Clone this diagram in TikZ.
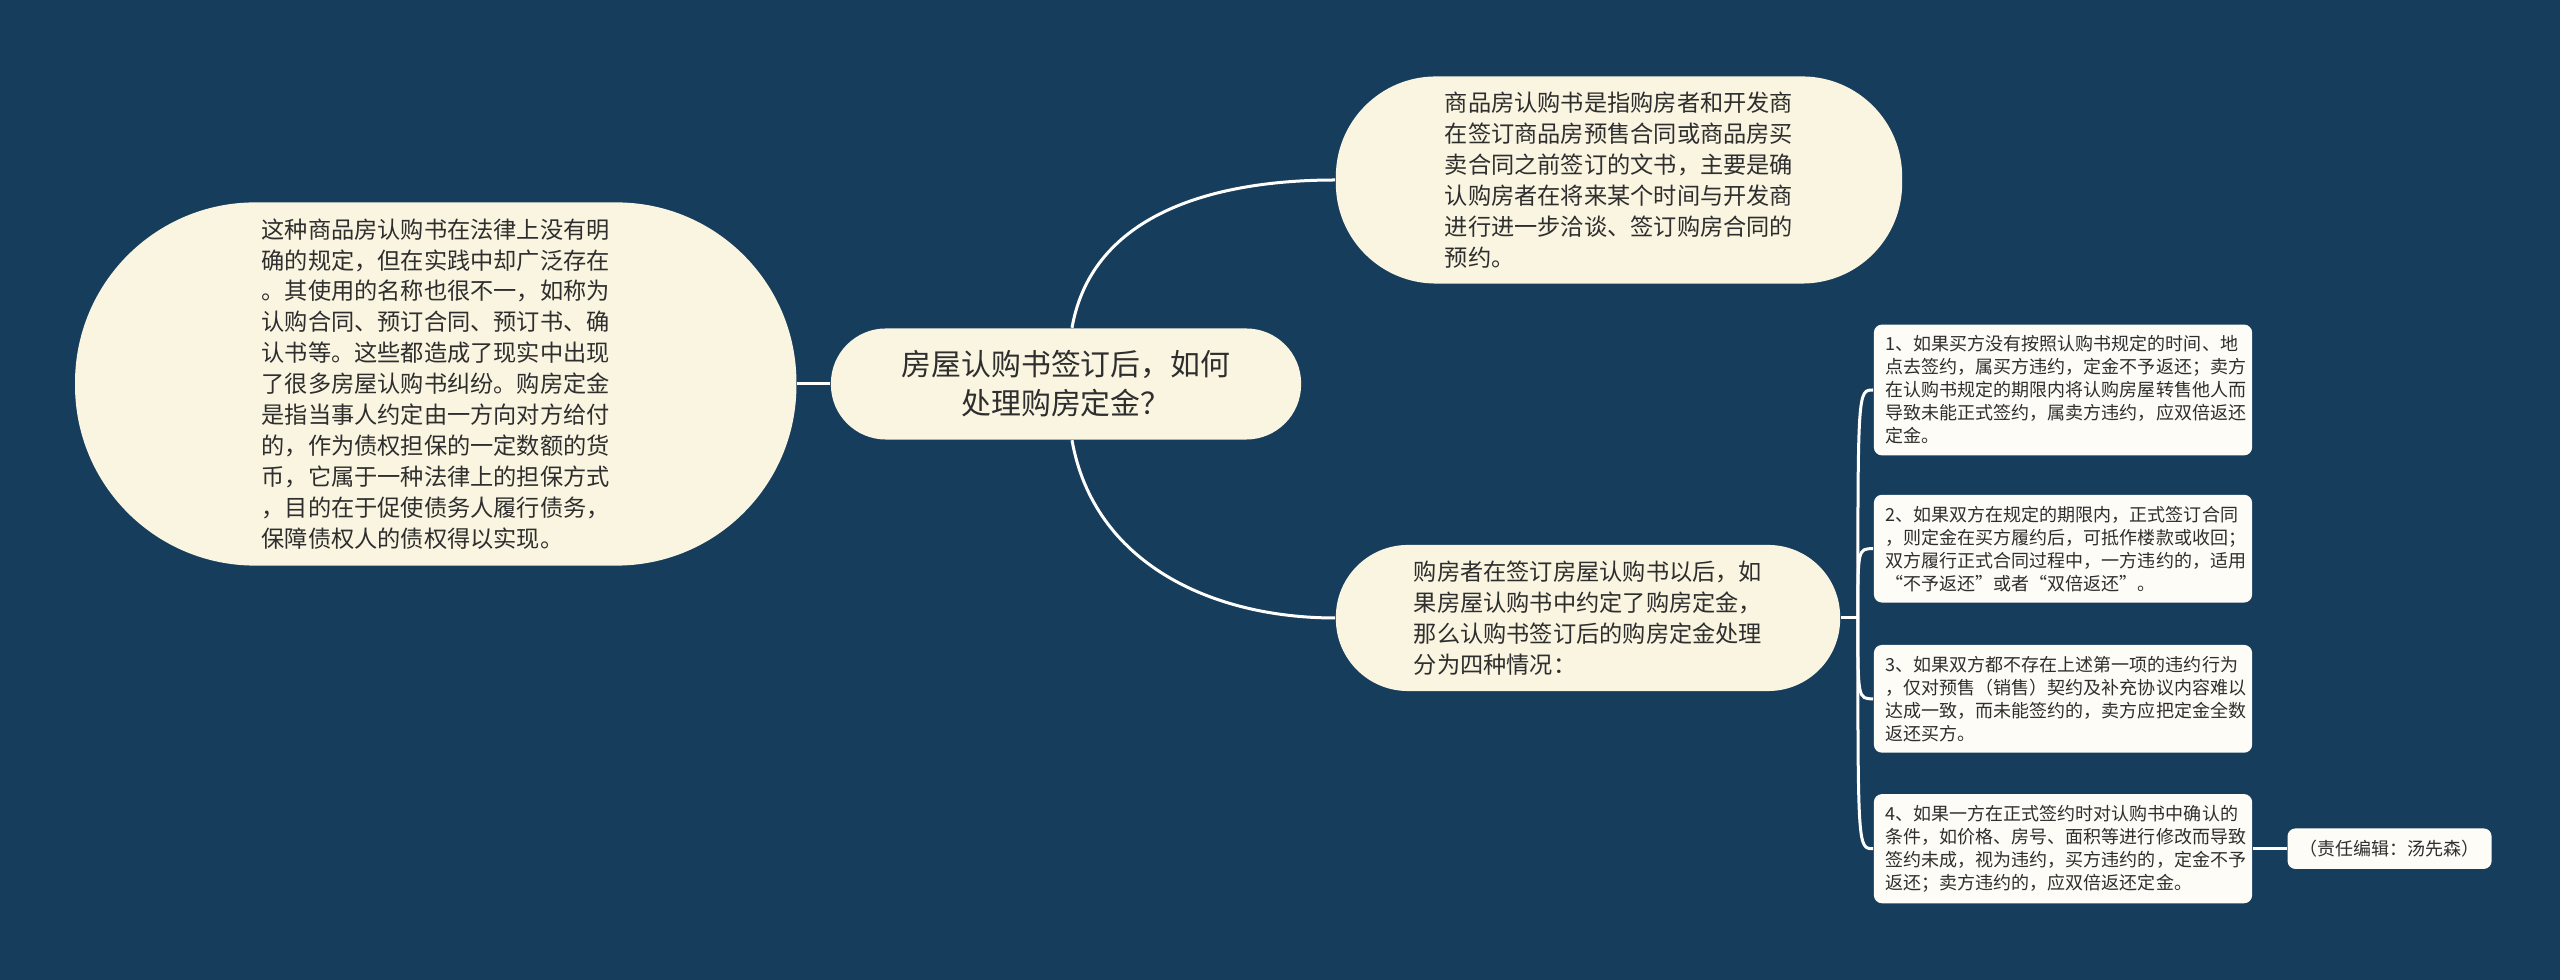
\documentclass[tikz,border=0pt]{standalone}
\usepackage{fontspec}
\setmainfont{Noto Sans CJK SC}
\usepackage{tikz}
\usetikzlibrary{positioning}

\definecolor{bgnavy}{HTML}{173D5C}
\definecolor{cream}{HTML}{FAF5E1}
\definecolor{paper}{HTML}{FDFCF6}
\definecolor{ink}{HTML}{2E2E2E}

\tikzset{
  bubble/.style={fill=cream, text=ink, inner sep=0pt, align=left,
    font=\fontsize{6.6pt}{8.8pt}\selectfont},
  leaf/.style={fill=paper, text=ink, rounded corners=0.08cm, text width=3.54cm,
    inner xsep=0.12cm, inner ysep=0.11cm, align=left,
    font=\fontsize{5.12pt}{6.54pt}\selectfont},
  tag/.style={fill=paper, text=ink, rounded corners=0.08cm, inner xsep=0.12cm,
    minimum height=0.39cm, font=\fontsize{5.12pt}{6.54pt}\selectfont},
  link/.style={draw=white, line width=0.03cm},
}

\begin{document}
\begin{tikzpicture}[x=0.01cm, y=0.01cm]
        \fill[bgnavy] (0,0) rectangle (2560,-980);
        \useasboundingbox (0,0) rectangle (2560,-980);
        \node[bubble, align=center, font=\fontsize{8.5pt}{11.1pt}\selectfont,
              minimum width=4.7cm, minimum height=1.11cm, rounded corners=0.55cm]
              (root) at (1066,-384) {房屋认购书签订后，如何\\处理购房定金？};
        \node[bubble, minimum width=7.21cm, minimum height=3.63cm, rounded corners=1.8cm]
              (note) [left=0.33cm of root]
              {这种商品房认购书在法律上没有明\\确的规定，但在实践中却广泛存在\\。其使用的名称也很不一，如称为\\认购合同、预订合同、预订书、确\\认书等。这些都造成了现实中出现\\了很多房屋认购书纠纷。购房定金\\是指当事人约定由一方向对方给付\\的，作为债权担保的一定数额的货\\币，它属于一种法律上的担保方式\\，目的在于促使债务人履行债务，\\保障债权人的债权得以实现。};
        \node[bubble, minimum width=5.66cm, minimum height=2.07cm, rounded corners=1.0cm]
              (def) at (1619,-180)
              {商品房认购书是指购房者和开发商\\在签订商品房预售合同或商品房买\\卖合同之前签订的文书，主要是确\\认购房者在将来某个时间与开发商\\进行进一步洽谈、签订购房合同的\\预约。};
        \node[bubble, minimum width=5.04cm, minimum height=1.46cm, rounded corners=0.72cm]
              (rule) at (1588,-618)
              {购房者在签订房屋认购书以后，如\\果房屋认购书中约定了购房定金，\\那么认购书签订后的购房定金处理\\分为四种情况：};
        \node[leaf] (leaf1) at (2063,-390)
              {1、如果买方没有按照认购书规定的时间、地\\点去签约，属买方违约，定金不予返还；卖方\\在认购书规定的期限内将认购房屋转售他人而\\导致未能正式签约，属卖方违约，应双倍返还\\定金。};
        \node[leaf] (leaf2) [below=0.38cm of leaf1]
              {2、如果双方在规定的期限内，正式签订合同\\，则定金在买方履约后，可抵作楼款或收回；\\双方履行正式合同过程中，一方违约的，适用\\“不予返还”或者“双倍返还”。};
        \node[leaf] (leaf3) [below=0.41cm of leaf2]
              {3、如果双方都不存在上述第一项的违约行为\\，仅对预售（销售）契约及补充协议内容难以\\达成一致，而未能签约的，卖方应把定金全数\\返还买方。};
        \node[leaf] (leaf4) [below=0.40cm of leaf3]
              {4、如果一方在正式签约时对认购书中确认的\\条件，如价格、房号、面积等进行修改而导致\\签约未成，视为违约，买方违约的，定金不予\\返还；卖方违约的，应双倍返还定金。};
        \node[tag] (editor) [right=0.34cm of leaf4] {（责任编辑：汤先森）};
        \coordinate[right=0.17cm of rule.east] (hub);
          \path[link]
            (note) edge (root)
            ([xshift=0.06cm]root.north) edge[out=80, in=180] (def.west)
            ([xshift=0.06cm]root.south) edge[out=-80, in=180] (rule.west)
            (rule.east) edge (hub)
            (leaf4) edge (editor);
          \foreach \i in {1,...,4}
            \draw[link] (hub) .. controls (hub |- leaf\i.west) and (hub |- leaf\i.west) .. (leaf\i.west);
    \end{tikzpicture}
\end{document}
